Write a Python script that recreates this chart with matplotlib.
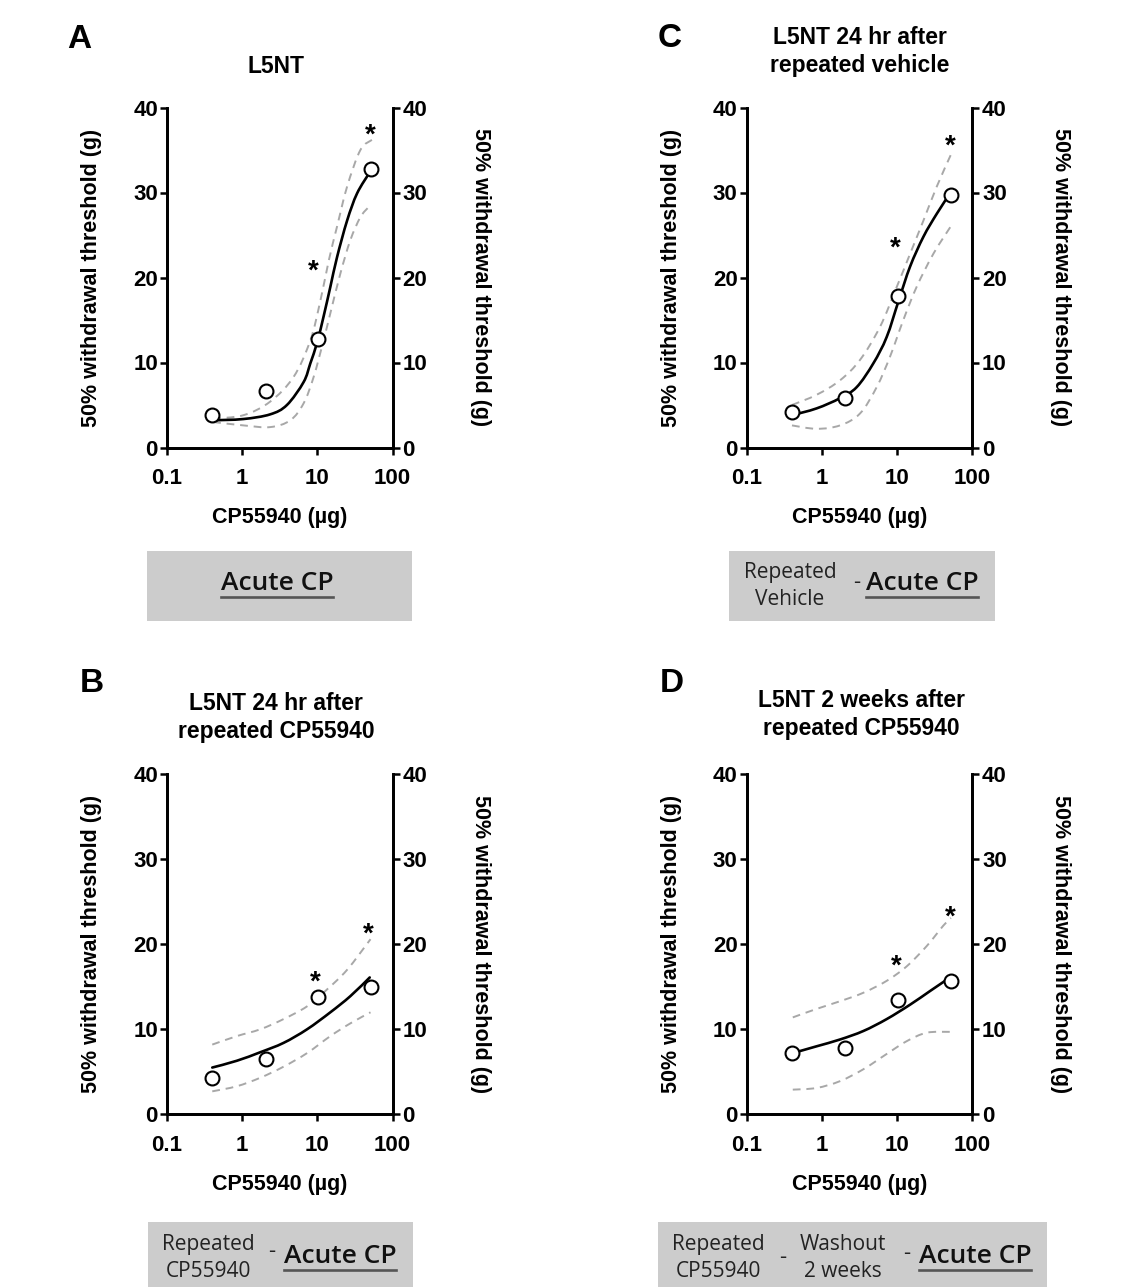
import matplotlib
matplotlib.use('Agg')
import numpy as np
import matplotlib.pyplot as plt
from matplotlib.patches import Rectangle, PathPatch
from matplotlib.path import Path
from matplotlib.lines import Line2D

# ---------------- data ----------------
dose_ug = [0.4, 2.05, 10.3, 51.5]
x_ticks = [0.1, 1, 10, 100]
x_tick_labels = ['0.1', '1', '10', '100']
y_ticks = [0, 10, 20, 30, 40]

# Panel A: L5NT
mean_A = [3.8, 6.6, 12.8, 32.8]
fit_A_x = [0.41, 1.04, 2.36, 3.94, 6.57, 8.07, 9.9, 12.1, 14.9, 18.3, 24.9, 33.8, 50]
fit_A_y = [3.2, 3.35, 3.9, 5.0, 7.7, 9.9, 12.3, 15.4, 18.9, 22.4, 26.7, 29.9, 32.4]
upper_A_x = [0.41, 1.04, 2.36, 4.83, 8.07, 11.0, 14.2, 18.3, 24.9, 37.4, 53.5]
upper_A_y = [3.4, 3.8, 5.4, 8.3, 12.6, 17.3, 22.0, 26.0, 30.7, 35.0, 36.2]
lower_A_x = [0.41, 1.04, 2.36, 4.37, 6.57, 8.93, 12.1, 14.9, 20.3, 27.5, 37.4, 48.3]
lower_A_y = [3.0, 2.6, 2.4, 3.2, 5.2, 8.3, 12.6, 15.8, 20.5, 24.4, 27.1, 28.3]
star_A_x = [8.9, 50]
star_A_y = [21.7, 37.7]

# Panel B: L5NT 24 hr after repeated CP55940
mean_B = [4.3, 6.5, 13.8, 15.0]
fit_B_x = [0.40, 0.85, 1.74, 3.55, 7.3, 14.9, 27.5, 49.8]
fit_B_y = [5.5, 6.3, 7.3, 8.4, 10.0, 12.0, 13.9, 16.1]
upper_B_x = [0.40, 0.85, 1.74, 3.55, 7.3, 13.5, 24.9, 51]
upper_B_y = [8.2, 9.2, 10.0, 11.2, 12.7, 14.7, 17.0, 20.6]
lower_B_x = [0.40, 0.85, 1.74, 3.55, 7.3, 14.9, 27.5, 51]
lower_B_y = [2.7, 3.3, 4.3, 5.6, 7.2, 9.2, 10.7, 12.0]
star_B_x = [9.4, 48]
star_B_y = [16.5, 22.2]

# Panel C: L5NT 24 hr after repeated vehicle
mean_C = [4.2, 5.8, 17.8, 29.7]
fit_C_x = [0.40, 0.85, 1.74, 2.9, 4.83, 7.27, 10.5, 14.9, 22.4, 33.7, 50.6]
fit_C_y = [3.8, 4.6, 5.8, 7.1, 9.9, 13.0, 17.3, 21.3, 24.8, 27.5, 29.9]
upper_C_x = [0.40, 0.85, 1.74, 3.21, 5.93, 9.9, 14.9, 22.4, 33.7, 51.6]
upper_C_y = [5.0, 6.2, 7.9, 10.3, 14.2, 18.9, 22.8, 26.7, 30.7, 34.4]
lower_C_x = [0.40, 0.85, 1.74, 3.21, 5.35, 8.06, 12.1, 18.2, 30.4, 51.6]
lower_C_y = [2.6, 2.2, 2.6, 4.0, 7.1, 10.7, 15.0, 18.9, 22.8, 26.0]
star_C_x = [9.4, 50.6]
star_C_y = [24.4, 36.4]

# Panel D: L5NT 2 weeks after repeated CP55940
mean_D = [7.2, 7.8, 13.4, 15.7]
fit_D_x = [0.41, 0.85, 1.74, 3.56, 7.27, 14.9, 27.4, 50.6]
fit_D_y = [7.2, 8.0, 8.8, 9.8, 11.2, 12.9, 14.5, 16.1]
upper_D_x = [0.41, 0.85, 1.74, 3.56, 7.27, 13.4, 24.8, 41.2, 52]
upper_D_y = [11.4, 12.4, 13.3, 14.3, 15.7, 17.4, 19.8, 22.2, 23.1]
lower_D_x = [0.41, 0.85, 1.74, 3.56, 7.27, 13.4, 24.8, 50.6]
lower_D_y = [2.9, 3.1, 3.9, 5.3, 7.1, 8.6, 9.6, 9.7]
star_D_x = [9.8, 50.6]
star_D_y = [18.4, 24.2]

titles = {
    'A': 'L5NT',
    'B': 'L5NT 24 hr after\nrepeated CP55940',
    'C': 'L5NT 24 hr after\nrepeated vehicle',
    'D': 'L5NT 2 weeks after\nrepeated CP55940',
}
y_label = '50% withdrawal threshold (g)'
x_label = 'CP55940 (µg)'

# ---------------- figure ----------------
W, H = 1140, 1287
fig = plt.figure(figsize=(W / 100, H / 100), dpi=100)
fig.patch.set_facecolor('white')

AXF = ['Liberation Sans', 'DejaVu Sans']
BOXF = ['Open Sans', 'DejaVu Sans']


def fx(x):
    return x / W


def fy(y):
    return 1 - y / H


def smooth_curve(ax, xs, ys, **kw):
    """Draw a smooth Bezier path through the read points (log-x space)."""
    u = np.log10(np.asarray(xs, float))
    v = np.asarray(ys, float)
    P = np.column_stack([u, v])
    n = len(P)
    verts = [P[0]]
    codes = [Path.MOVETO]
    for i in range(n - 1):
        p0 = P[i - 1] if i > 0 else P[i]
        p1 = P[i]
        p2 = P[i + 1]
        p3 = P[i + 2] if i + 2 < n else P[i + 1]
        c1 = p1 + (p2 - p0) / 6.0
        c2 = p2 - (p3 - p1) / 6.0
        verts += [c1, c2, p2]
        codes += [Path.CURVE4] * 3
    verts = np.array(verts)
    verts[:, 0] = 10 ** verts[:, 0]
    patch = PathPatch(Path(verts, codes), fill=False, transform=ax.transData, **kw)
    ax.add_patch(patch)
    return patch


def draw_panel(letter, rect, title_pos, mean, fx_, fy_, ux, uy, lx, ly, sx, sy):
    l, r, t, b = rect
    ax = fig.add_axes([fx(l), fy(b), (r - l) / W, (b - t) / H])
    ax.set_xscale('log')
    ax.set_xlim(0.1, 100)
    ax.set_ylim(0, 40)
    ax.set_xticks(x_ticks)
    ax.set_xticklabels(x_tick_labels)
    ax.minorticks_off()
    ax.set_yticks(y_ticks)
    ax.spines['top'].set_visible(False)
    for s in ['left', 'right', 'bottom']:
        ax.spines[s].set_linewidth(2.0)
    ax.tick_params(axis='x', direction='out', length=5, width=1.8, pad=10,
                   labelsize=16)
    ax.tick_params(axis='y', direction='out', length=5, width=1.8, pad=1.5,
                   labelsize=16, left=True, right=False)
    ax2 = ax.twinx()
    ax2.set_ylim(0, 40)
    ax2.set_yticks(y_ticks)
    ax2.spines['top'].set_visible(False)
    for s in ['left', 'right', 'bottom']:
        ax2.spines[s].set_linewidth(2.0)
    ax2.tick_params(axis='y', direction='out', length=5, width=1.8, pad=2,
                    labelsize=16)
    for a in (ax, ax2):
        for lab in a.get_xticklabels() + a.get_yticklabels():
            lab.set_fontfamily(AXF)
            lab.set_fontweight('bold')

    smooth_curve(ax, ux, uy, edgecolor='#a8a8a8', lw=1.4, linestyle=(0, (4, 3)), zorder=2)
    smooth_curve(ax, lx, ly, edgecolor='#a8a8a8', lw=1.4, linestyle=(0, (4, 3)), zorder=2)
    smooth_curve(ax, fx_, fy_, edgecolor='black', lw=1.9, zorder=3, capstyle='round')
    ax.plot(dose_ug, mean, ls='none', marker='o', ms=10, mfc='white',
            mec='black', mew=1.5, zorder=4, clip_on=False)
    for x, y in zip(sx, sy):
        ax.annotate('*', (x, y), xytext=(0, -11.5), textcoords='offset points',
                    ha='center', va='baseline', fontsize=20, fontweight='bold',
                    family=AXF)

    cx = (l + r) / 2
    cy = (t + b) / 2
    fig.text(fx(l - 75), fy(cy), y_label, rotation=90, ha='center', va='center',
             fontsize=15.5, fontweight='bold', family=AXF)
    fig.text(fx(r + 88), fy(cy), y_label, rotation=270, ha='center', va='center',
             fontsize=15.5, fontweight='bold', family=AXF)
    fig.text(fx(cx), fy(b + 70), x_label, ha='center', va='center',
             fontsize=15.5, fontweight='bold', family=AXF)
    tx, ty = title_pos
    fig.text(fx(tx), fy(ty), titles[letter], ha='center', va='baseline',
             fontsize=16.5, fontweight='bold', family=AXF, linespacing=1.3)
    return ax


# title positions: baseline of the LAST line
draw_panel('A', (167, 392.5, 107.5, 447.5), (276, 73), mean_A, fit_A_x, fit_A_y,
           upper_A_x, upper_A_y, lower_A_x, lower_A_y, star_A_x, star_A_y)
draw_panel('C', (746.7, 972.3, 107.5, 447.5), (860, 72), mean_C, fit_C_x, fit_C_y,
           upper_C_x, upper_C_y, lower_C_x, lower_C_y, star_C_x, star_C_y)
draw_panel('B', (167, 392.5, 774.3, 1114.3), (276, 738), mean_B, fit_B_x, fit_B_y,
           upper_B_x, upper_B_y, lower_B_x, lower_B_y, star_B_x, star_B_y)
draw_panel('D', (746.7, 972.3, 774.3, 1114.3), (861, 735), mean_D, fit_D_x, fit_D_y,
           upper_D_x, upper_D_y, lower_D_x, lower_D_y, star_D_x, star_D_y)

# panel letters
for letter, (x, y) in {'A': (67, 48), 'C': (658, 47), 'B': (80, 692), 'D': (660, 692)}.items():
    fig.text(fx(x), fy(y), letter, ha='left', va='baseline', fontsize=24,
             fontweight='bold', family=AXF)

# grey treatment boxes
box_fill = '#cccccc'
for (x0, y0, x1, y1) in [(147, 551, 412, 621), (729, 551, 995, 621),
                         (148, 1222, 413, 1295), (658, 1222, 1047, 1295)]:
    fig.patches.append(Rectangle((fx(x0), fy(y1)), (x1 - x0) / W, (y1 - y0) / H,
                                 transform=fig.transFigure, facecolor=box_fill,
                                 edgecolor='none', zorder=0))

sub_kw = dict(ha='center', va='baseline', fontsize=15, family=BOXF,
              color='#222222', linespacing=1.38)
acute_kw = dict(ha='center', va='baseline', fontsize=19, fontweight='semibold',
                family=BOXF, color='#111111')
dash_kw = dict(ha='center', va='center', fontsize=16, family=BOXF, color='#222222')
acute = []
acute.append(fig.text(fx(277), fy(590), 'Acute CP', **acute_kw))
# C  (baseline of the last line)
fig.text(fx(790), fy(605), 'Repeated\nVehicle', **sub_kw)
fig.text(fx(857), fy(583), '-', **dash_kw)
acute.append(fig.text(fx(922), fy(590), 'Acute CP', **acute_kw))
# B
fig.text(fx(208), fy(1277), 'Repeated\nCP55940', **sub_kw)
fig.text(fx(272), fy(1252), '-', **dash_kw)
acute.append(fig.text(fx(340), fy(1263), 'Acute CP', **acute_kw))
# D
fig.text(fx(718), fy(1277), 'Repeated\nCP55940', **sub_kw)
fig.text(fx(783), fy(1257), '-', **dash_kw)
fig.text(fx(843), fy(1277), 'Washout\n2 weeks', **sub_kw)
fig.text(fx(907), fy(1253), '-', **dash_kw)
acute.append(fig.text(fx(975), fy(1263), 'Acute CP', **acute_kw))

# underline "Acute CP"
fig.canvas.draw()
renderer = fig.canvas.get_renderer()
for t in acute:
    bb = t.get_window_extent(renderer)
    base_y = t.get_position()[1]
    ul_y = base_y - 6.5 / H
    fig.add_artist(Line2D([bb.x0 / W, bb.x1 / W], [ul_y, ul_y],
                          transform=fig.transFigure, color='#555555', lw=1.9))

fig.savefig('out.png', dpi=100, facecolor='white')
